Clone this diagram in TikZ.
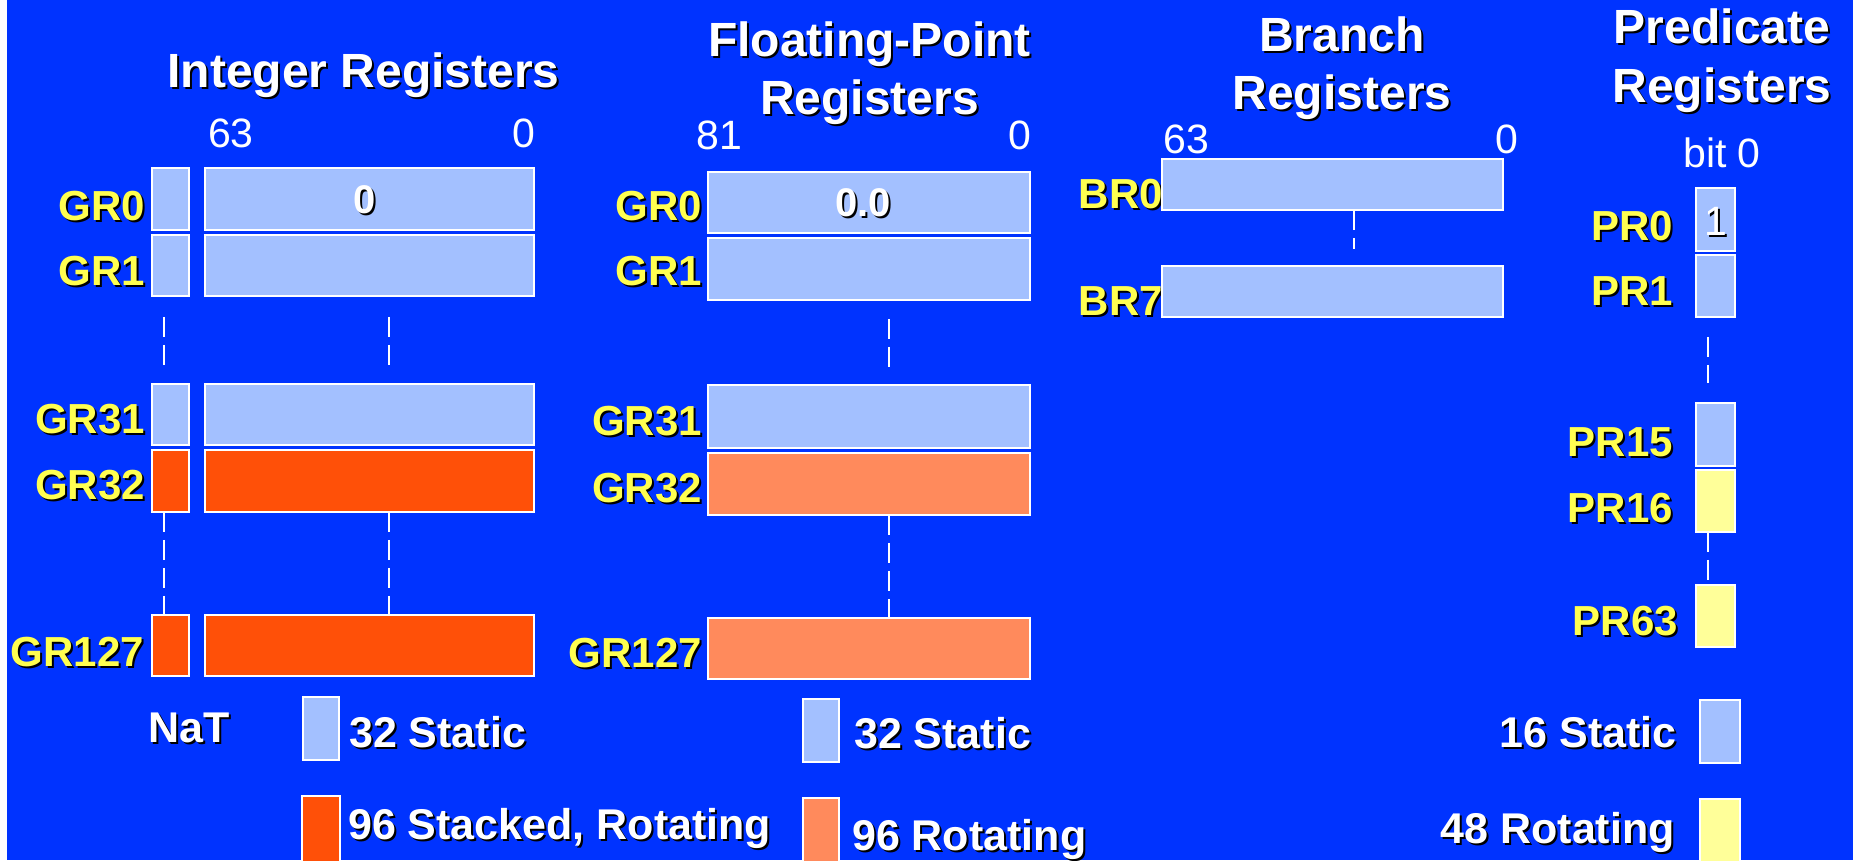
\documentclass[tikz,border=0pt]{standalone}
\usepackage{fontspec}
\setmainfont{Liberation Sans}
\usetikzlibrary{calc}
\definecolor{bg}{RGB}{0,51,255}
\definecolor{lb}{RGB}{163,192,255}
\definecolor{orng}{RGB}{255,80,8}
\definecolor{salm}{RGB}{255,138,92}
\definecolor{ylw}{RGB}{255,255,153}
\definecolor{lab}{RGB}{255,255,80}
\newcommand\shd[1]{\makebox[0pt][l]{\kern2pt\raisebox{-2pt}{\color{black}#1}}#1}
\tikzset{
  rbox/.style={draw=white, line width=2.4pt, inner sep=0pt, outer sep=0pt},
  ttl/.style={text=white, font=\bfseries\fontsize{48}{57.5}\selectfont, align=center, inner sep=0pt, anchor=base},
  lbl/.style={text=lab, font=\bfseries\fontsize{42}{48}\selectfont, inner sep=0pt, anchor=base east},
  num/.style={text=white, font=\fontsize{41}{48}\selectfont, inner sep=0pt},
  leg/.style={text=white, font=\bfseries\fontsize{43}{50}\selectfont, inner sep=0pt},
  inval/.style={text=white, font=\bfseries\fontsize{40}{48}\selectfont, inner sep=0pt, anchor=base},
  dsh/.style={draw=white, line width=2.2pt, dash pattern=on 20pt off 8pt},
}
% \rb{name}{x1}{y1}{x2}{y2}{fill}
\newcommand\rb[6]{\node[rbox,fill=#6,minimum width={#4-#2-2.4},minimum height={#5-#3-2.4}] (#1) at ({(#2+#4)/2},{(#3+#5)/2}) {};}
\begin{document}
\begin{tikzpicture}[x=1pt,y=-1pt]
\useasboundingbox (0,0) rectangle (1853,860);
\clip (0,0) rectangle (1853,860);
\fill[white] (0,0) rectangle (7,860);
\fill[bg] (7,0) rectangle (1853,860);

% ---------- titles (anchor = baseline of last line) ----------
\node[ttl] (tint) at (363.5,87) {\shd{Integer Registers}};
\node[ttl] (tfp) at (869.5,114) {\shd{Floating-Point}\\\shd{Registers}};
\node[ttl] (tbr) at (1342,109) {\shd{Branch}\\\shd{Registers}};
\node[ttl, font=\bfseries\fontsize{48}{59}\selectfont] (tpr) at (1722,102) {\shd{Predicate}\\\shd{Registers}};

% ---------- bit numbers ----------
\node[num, anchor=base west] (i63) at (208,147) {63};
\node[num, anchor=base east] (i00) at (535,147) {0};
\node[num, anchor=base west] (f81) at (696,149) {81};
\node[num, anchor=base east] (f00) at (1031,149) {0};
\node[num, anchor=base west] (b63) at (1163,153) {63};
\node[num, anchor=base east] (b00) at (1518,153) {0};
\node[num, anchor=base west] (pbit) at (1683,167) {bit 0};

% ---------- register labels ----------
\node[lbl] (li0) at (145,220) {\shd{GR0}};
\node[lbl] (li1) at (145,285) {\shd{GR1}};
\node[lbl] (li31) at (145,433) {\shd{GR31}};
\node[lbl] (li32) at (145,499) {\shd{GR32}};
\node[lbl] (li127) at (144,666) {\shd{GR127}};

\node[lbl] (lf0) at (702,220) {\shd{GR0}};
\node[lbl] (lf1) at (702,285) {\shd{GR1}};
\node[lbl] (lf31) at (702,435) {\shd{GR31}};
\node[lbl] (lf32) at (702,502) {\shd{GR32}};
\node[lbl] (lf127) at (702,667) {\shd{GR127}};

\node[lbl] (lb0) at (1163,208) {\shd{BR0}};
\node[lbl] (lb7) at (1163,315) {\shd{BR7}};

\node[lbl] (lp0) at (1673,240) {\shd{PR0}};
\node[lbl] (lp1) at (1673,305) {\shd{PR1}};
\node[lbl] (lp15) at (1673,456) {\shd{PR15}};
\node[lbl] (lp16) at (1673,522) {\shd{PR16}};
\node[lbl] (lp63) at (1678,635) {\shd{PR63}};

% ---------- integer registers ----------
\rb{i0n}{151}{167}{190}{231}{lb}
\rb{i1n}{151}{234}{190}{297}{lb}
\rb{i31n}{151}{383}{190}{446}{lb}
\rb{i32n}{151}{449}{190}{513}{orng}
\rb{i127n}{151}{614}{190}{677}{orng}
\rb{i0}{204}{167}{535}{231}{lb}
\rb{i1}{204}{234}{535}{297}{lb}
\rb{i31}{204}{383}{535}{446}{lb}
\rb{i32}{204}{449}{535}{513}{orng}
\rb{i127}{204}{614}{535}{677}{orng}
\node[inval] (vi0) at (365,213) {\shd{0}};

% ---------- floating-point registers ----------
\rb{f0}{707}{171}{1031}{234}{lb}
\rb{f1}{707}{237}{1031}{301}{lb}
\rb{f31}{707}{384}{1031}{449}{lb}
\rb{f32}{707}{452}{1031}{516}{salm}
\rb{f127}{707}{617}{1031}{680}{salm}
\node[inval] (vf0) at (863,216) {\shd{0.0}};

% ---------- branch registers ----------
\rb{b0}{1161}{158}{1504}{211}{lb}
\rb{b7}{1161}{265}{1504}{318}{lb}

% ---------- predicate registers ----------
\rb{p0}{1695}{187}{1736}{252}{lb}
\rb{p1}{1695}{254}{1736}{318}{lb}
\rb{p15}{1695}{402}{1736}{467}{lb}
\rb{p16}{1695}{469}{1736}{533}{ylw}
\rb{p63}{1695}{584}{1736}{648}{ylw}
\node[num, anchor=base] (vp0) at (1716,235) {\shd{1}};

% ---------- dashed continuation lines ----------
\draw[dsh] ($(i1n.south)+(-6.5,21)$) -- ($(i31n.north)+(-6.5,-19)$);
\draw[dsh] ($(i32n.south)+(-6.5,0)$) -- ($(i127n.north)+(-6.5,0)$);
\draw[dsh] ($(i1.south)+(19.5,21)$) -- ($(i31.north)+(19.5,-18)$);
\draw[dsh] ($(i32.south)+(19.5,0)$) -- ($(i127.north)+(19.5,0)$);
\draw[dsh] ($(f1.south)+(20,19)$) -- ($(f31.north)+(20,-17)$);
\draw[dsh] ($(f32.south)+(20,0)$) -- ($(f127.north)+(20,0)$);
\draw[dsh] ($(b0.south)+(21.5,0)$) -- ++(0,39);
\draw[dsh] ($(p1.south)+(-7.5,20)$) -- ($(p15.north)+(-7.5,-20)$);
\draw[dsh] ($(p16.south)+(-7.5,0)$) -- ($(p63.north)+(-7.5,0)$);

% ---------- legends ----------
\node[leg, anchor=base west] (nat) at (148,742) {\shd{NaT}};
\rb{gis}{302}{696}{340}{761}{lb}
\node[leg, anchor=base west] (gist) at (349,747) {\shd{32 Static}};
\rb{gir}{301}{795}{341}{880}{orng}
\node[leg, anchor=base west] (girt) at (348,839) {\shd{96 Stacked, Rotating}};

\rb{gfs}{802}{698}{840}{763}{lb}
\node[leg, anchor=base west] (gfst) at (854,748) {\shd{32 Static}};
\rb{gfr}{802}{797}{840}{880}{salm}
\node[leg, anchor=base west] (gfrt) at (852,850) {\shd{96 Rotating}};

\rb{gps}{1699}{699}{1741}{764}{lb}
\node[leg, anchor=base east] (gpst) at (1677,747) {\shd{16 Static}};
\rb{gpr}{1699}{798}{1741}{880}{ylw}
\node[leg, anchor=base east] (gprt) at (1675,843) {\shd{48 Rotating}};
\end{tikzpicture}
\end{document}
